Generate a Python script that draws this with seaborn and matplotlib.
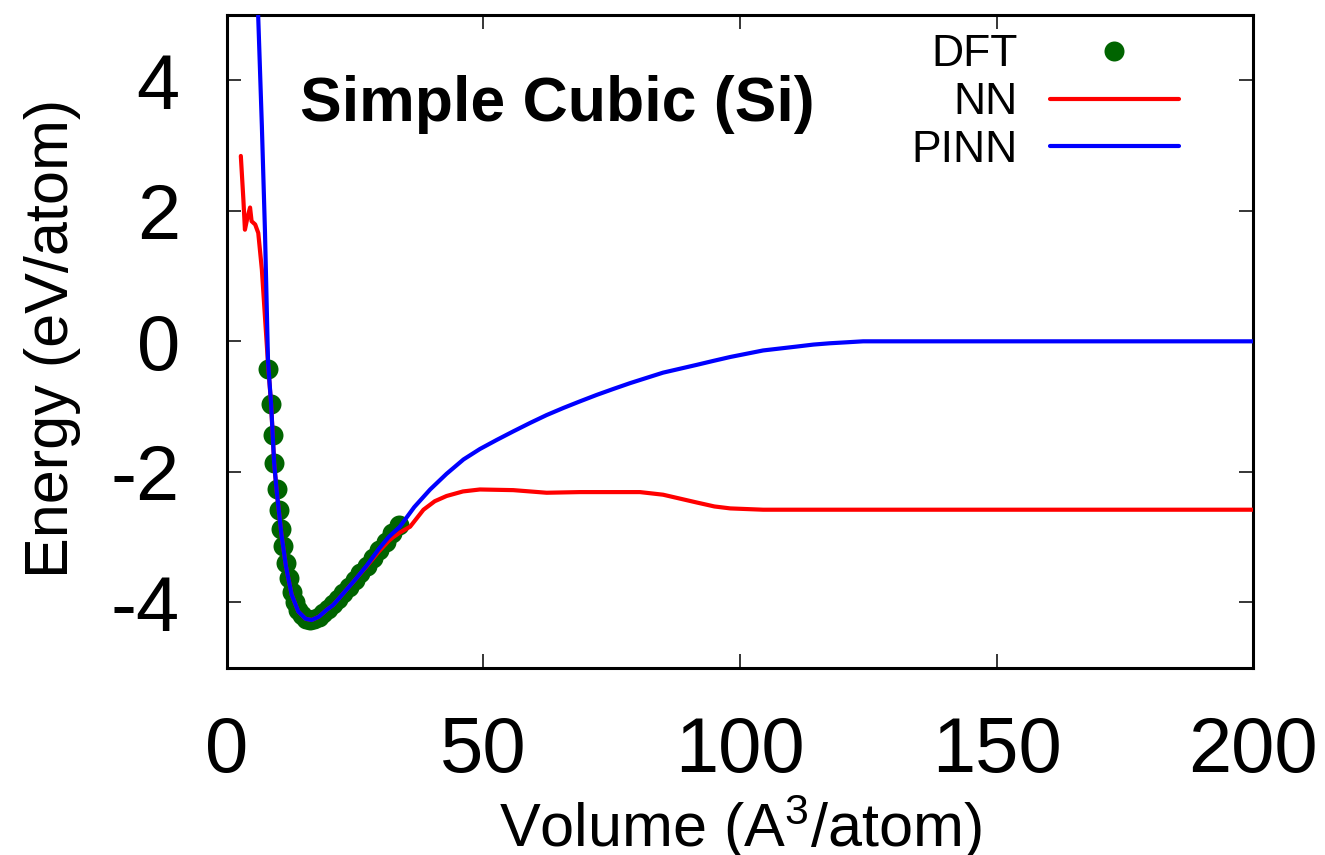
import matplotlib
matplotlib.use("Agg")
import matplotlib.pyplot as plt
from matplotlib.lines import Line2D
import seaborn as sns
import pandas as pd

# DFT reference energies (eV/atom) vs volume (A^3/atom)
dft_volume = [8.05, 8.6, 8.9, 9.2, 9.7, 10.2, 10.6, 11.0, 11.5, 12.0, 12.6, 13.2,
              13.9, 14.6, 15.4, 16.2, 17.0, 17.9, 18.8, 19.7, 20.7, 21.7, 22.7,
              23.8, 24.9, 26.0, 27.2, 28.4, 29.6, 30.9, 32.2, 33.5]
dft_energy = [-0.42, -0.96, -1.44, -1.87, -2.26, -2.58, -2.88, -3.14, -3.40, -3.62,
              -3.84, -4.00, -4.12, -4.20, -4.25, -4.27, -4.26, -4.22, -4.16, -4.10,
              -4.03, -3.95, -3.86, -3.76, -3.66, -3.55, -3.44, -3.32, -3.20, -3.07,
              -2.94, -2.82]

# Plain neural-network potential
nn_volume = [2.7, 3.2, 3.5, 4.0, 4.5, 4.8, 5.5, 6.1, 6.8, 7.4, 8.05, 8.6, 9.2, 9.7,
             10.6, 11.5, 12.6, 13.9, 15.3, 16.5, 17.9, 19.5, 20.7, 22.7, 24.9, 27.2,
             29.6, 31.5, 32.4, 33.7, 35.7, 38.3, 40.5, 42.8, 46.0, 49.3, 55.8, 62.3,
             68.8, 75.3, 80.5, 85.0, 88.3, 91.6, 95.0, 98.1, 104.5, 121.0, 200.0]
nn_energy = [2.84, 2.17, 1.71, 1.90, 2.05, 1.84, 1.79, 1.66, 1.10, 0.38, -0.40, -0.96,
             -1.87, -2.30, -2.95, -3.45, -3.88, -4.14, -4.25, -4.27, -4.22, -4.11,
             -4.04, -3.86, -3.66, -3.45, -3.22, -3.06, -3.00, -2.93, -2.84, -2.58,
             -2.45, -2.37, -2.30, -2.27, -2.28, -2.32, -2.31, -2.31, -2.31, -2.35,
             -2.41, -2.47, -2.53, -2.56, -2.58, -2.58, -2.58]

# Physically informed neural-network potential
pinn_volume = [6.0, 6.1, 6.8, 7.4, 8.0, 8.6, 9.2, 9.7, 10.6, 11.5, 12.6, 13.9, 15.3,
               16.5, 17.9, 19.5, 20.7, 22.7, 24.9, 27.2, 29.6, 31.5, 33.7, 36.5,
               39.6, 42.8, 46.1, 49.3, 52.6, 55.8, 59.1, 62.3, 65.6, 68.8, 72.1, 75.3,
               78.6, 81.8, 85.0, 88.3, 91.6, 94.8, 98.1, 101.3, 104.5, 107.8, 111.1,
               114.3, 117.5, 120.8, 124.0, 130.5, 140.0, 200.0]
pinn_energy = [5.2, 4.95, 3.30, 1.70, -0.30, -0.96, -1.87, -2.30, -2.95, -3.45, -3.88,
               -4.14, -4.25, -4.27, -4.22, -4.11, -4.04, -3.86, -3.66, -3.44, -3.18,
               -3.00, -2.84, -2.54, -2.27, -2.03, -1.81, -1.65, -1.51, -1.38, -1.25,
               -1.13, -1.02, -0.92, -0.82, -0.73, -0.64, -0.56, -0.48, -0.42, -0.36,
               -0.30, -0.24, -0.19, -0.14, -0.11, -0.08, -0.05, -0.03, -0.015, 0.0,
               0.0, 0.0, 0.0]

x_ticks = [0, 50, 100, 150, 200]
y_ticks = [-4, -2, 0, 2, 4]
legend_labels = ["DFT", "NN", "PINN"]
title_text = "Simple Cubic (Si)"

sns.set_style("ticks")
plt.rcParams["font.family"] = ["Liberation Sans", "DejaVu Sans"]
plt.rcParams["mathtext.fontset"] = "custom"
plt.rcParams["mathtext.rm"] = "Liberation Sans"
plt.rcParams["mathtext.it"] = "Liberation Sans"
plt.rcParams["axes.unicode_minus"] = False
for key in ["text.color", "axes.labelcolor", "xtick.color", "ytick.color",
            "axes.edgecolor"]:
    plt.rcParams[key] = "black"

fig = plt.figure(figsize=(13.25, 8.55), dpi=100)
ax = fig.add_axes([0.1713, 0.2191, 0.7744, 0.7634])

dft_df = pd.DataFrame({"V": dft_volume, "E": dft_energy})
nn_df = pd.DataFrame({"V": nn_volume, "E": nn_energy})
pinn_df = pd.DataFrame({"V": pinn_volume, "E": pinn_energy})

green, red, blue = "#006400", "#ff0000", "#0000ff"
sns.scatterplot(data=dft_df, x="V", y="E", ax=ax, color=green, s=207,
                linewidth=0, zorder=2, legend=False)
sns.lineplot(data=nn_df, x="V", y="E", ax=ax, color=red, linewidth=3.0,
             sort=False, estimator=None, zorder=3, legend=False)
sns.lineplot(data=pinn_df, x="V", y="E", ax=ax, color=blue, linewidth=3.0,
             sort=False, estimator=None, zorder=4, legend=False)

ax.set_xlim(0, 200)
ax.set_ylim(-5, 5)
ax.set_xticks(x_ticks)
ax.set_yticks(y_ticks)
ax.tick_params(axis="both", which="major", direction="in", top=True, right=True,
               length=10, width=1.1, labelsize=56, pad=34, color="black",
               labelcolor="black")
for sp in ax.spines.values():
    sp.set_linewidth(2.2)
    sp.set_color("black")
    sp.set_visible(True)

ax.set_xlabel(r"Volume (A$^{3}$/atom)", fontsize=44, color="black")
ax.xaxis.label.set_va("baseline")
ax.xaxis.set_label_coords(0.5, -0.2747)
ax.set_ylabel("Energy (eV/atom)", fontsize=44, color="black")
ax.yaxis.label.set_va("baseline")
ax.yaxis.set_label_coords(-0.155, 0.505)

ax.text(0.071, 0.8376, title_text, transform=ax.transAxes, fontsize=45,
        fontweight="bold", ha="left", va="baseline", color="black")

handles = [
    Line2D([], [], linestyle="none", marker="o", markersize=14.4,
           markerfacecolor=green, markeredgewidth=0),
    Line2D([], [], color=red, linewidth=3.0),
    Line2D([], [], color=blue, linewidth=3.0),
]
leg = ax.legend(handles, legend_labels, loc="upper right",
                bbox_to_anchor=(0.932, 0.977), markerfirst=False, frameon=False,
                fontsize=32, handlelength=2.9, handletextpad=0.72,
                labelspacing=0.15, borderpad=0.1, borderaxespad=0.0)
for t in leg.get_texts():
    t.set_color("black")

fig.savefig("out.png", dpi=100)
